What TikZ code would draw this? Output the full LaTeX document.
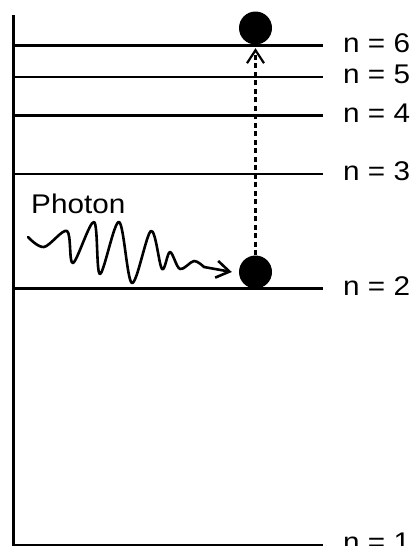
\documentclass[tikz,border=0pt]{standalone}
\usepackage{fontspec}
\setmainfont{Liberation Sans}[FakeStretch=1.1]
\usetikzlibrary{arrows.meta,positioning}
\tikzset{
  level/.style={line width=2.6pt, black},
  axisline/.style={line width=3pt, black},
  lbl/.style={font=\fontsize{27}{31}\selectfont, inner sep=0pt, anchor=base west},
  electron/.style={circle, fill=black, minimum size=33pt, inner sep=0pt},
  excite/.style={-{Straight Barb[length=13pt,width=17pt]}, line width=2.2pt,
    dash pattern=on 5pt off 3.5pt, shorten >=3.5pt},
  photon/.style={-{Straight Barb[length=13pt,width=17pt]}, line width=2.6pt,
    line cap=round, line join=round},
}
\begin{document}
\begin{tikzpicture}[x=1pt, y=-1pt]
  \useasboundingbox (0,0) rectangle (413,546);
  \coordinate (top) at (13,15); \coordinate (bot) at (13,546);
  \draw[axisline] (top) -- (bot);
  \foreach \n/\y in {6/45.5, 5/77, 4/115.5, 3/174, 2/288.5, 1/545}{
    \coordinate (l\n) at (13,\y); \coordinate (r\n) at (323,\y);
    \draw[level] (l\n) -- (r\n);
    \node[lbl] (lab\n) at ([xshift=20pt, yshift=-6.5pt]r\n) {n = \n};
  }
  \node[electron] (e6) at (255.5,28) {};
  \node[electron] (e2) at (255.5,272) {};
  \draw[excite] (e2.north) -- (e6.south);

  \node[lbl] (photonlbl) at (31,213) {Photon};
  \coordinate (src) at (28,237);
  \draw[photon] plot[smooth, tension=0.55] coordinates {(src) (44,247) (67,231)
    (73,263) (94,222) (100,274) (119,222) (132,283) (151,231) (162,269)
    (170,252) (180,269) (194,261) (204,267)} -- ([xshift=-7pt]e2.west);
\end{tikzpicture}
\end{document}
